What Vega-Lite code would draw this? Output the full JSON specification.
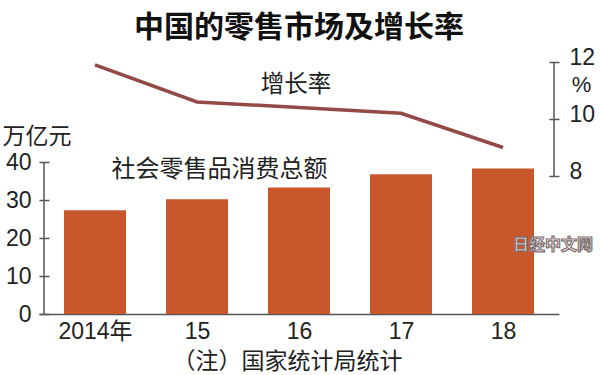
{
  "$schema": "https://vega.github.io/schema/vega-lite/v6.json",
  "width": 520,
  "height": 252,
  "autosize": {"type": "none"},
  "padding": {"left": 39, "top": 62, "right": 41, "bottom": 61},
  "background": "white",
  "config": {"view": {"stroke": null}, "font": "Noto Sans CJK SC", "axis": {"grid": false}},
  "title": {"text": "中国的零售市场及增长率", "fontSize": 30, "fontWeight": "bold", "font": "Noto Sans CJK SC", "color": "#111", "anchor": "middle", "offset": 3},
  "data": {"values": [
    {"year": 2014, "sales": 27.3, "growth": 11.9},
    {"year": 2015, "sales": 30.2, "growth": 10.6},
    {"year": 2016, "sales": 33.3, "growth": 10.4},
    {"year": 2017, "sales": 36.8, "growth": 10.2},
    {"year": 2018, "sales": 38.3, "growth": 9.0}
  ]},
  "layer": [
    {
      "layer": [
        {
          "mark": {"type": "bar", "size": 62, "color": "#c8582c"},
          "encoding": {
            "x": {"field": "year", "type": "quantitative", "scale": {"domain": [2013.5, 2018.5], "nice": false, "zero": false},
              "axis": {"values": [2014, 2015, 2016, 2017, 2018], "format": "d", "labelExpr": "datum.value == 2014 ? '2014年' : substring(datum.label, 2)",
                "ticks": false, "domainColor": "#555", "domainWidth": 1.5, "labelFont": "Liberation Sans, Noto Sans CJK SC", "labelFontSize": 23, "labelPadding": 6, "labelColor": "#222", "labelFlush": false, "labelOverlap": false, "labelBound": false, "grid": false,
                "title": "（注）国家统计局统计", "titleFont": "Noto Sans CJK SC", "titleFontSize": 23, "titleFontWeight": "normal", "titleX": 248, "titleY": 47, "titleBaseline": "middle", "titleAlign": "center", "titleColor": "#222"}},
            "y": {"field": "sales", "type": "quantitative", "scale": {"domain": [0, 66.32], "nice": false, "zero": true},
              "axis": {"values": [0, 10, 20, 30, 40], "domain": false, "tickSize": -10, "tickColor": "#555", "tickWidth": 1.5, "labelPadding": 18, "labelFont": "Liberation Sans", "labelFontSize": 23, "labelColor": "#222", "grid": false,
                "title": "万亿元", "titleAngle": 0, "titleAlign": "left", "titleBaseline": "middle", "titleX": -37, "titleY": 74, "titleFont": "Noto Sans CJK SC", "titleFontSize": 23, "titleFontWeight": "normal", "titleColor": "#222"}}
          }
        },
        {
          "data": {"values": [{}]},
          "mark": {"type": "rule", "color": "#555", "strokeWidth": 1.5},
          "encoding": {
            "x": {"datum": 2013.5, "type": "quantitative"},
            "y": {"datum": 0, "type": "quantitative"},
            "y2": {"datum": 40}
          }
        },
        {
          "data": {"values": [{}]},
          "mark": {"type": "text", "fontSize": 24, "color": "#222", "font": "Noto Sans CJK SC", "baseline": "middle", "align": "center"},
          "encoding": {
            "x": {"datum": 2015.22, "type": "quantitative"},
            "y": {"datum": 38, "type": "quantitative"},
            "text": {"value": "社会零售品消费总额"}
          }
        },
        {
          "data": {"values": [{}]},
          "mark": {"type": "text", "fontSize": 16, "fontWeight": "bold", "color": "white", "stroke": "#7d6e6e", "strokeWidth": 1.2, "font": "Noto Sans CJK SC", "baseline": "middle", "align": "center"},
          "encoding": {
            "x": {"datum": 2018.49, "type": "quantitative"},
            "y": {"datum": 18.2, "type": "quantitative"},
            "text": {"value": "日经中文网"}
          }
        }
      ]
    },
    {
      "layer": [
        {
          "mark": {"type": "line", "color": "#934946", "strokeWidth": 3.5},
          "encoding": {
            "x": {"field": "year", "type": "quantitative"},
            "y": {"field": "growth", "type": "quantitative", "scale": {"domain": [3.158, 12], "nice": false, "zero": false},
              "axis": {"orient": "right", "values": [8, 10, 12], "domain": false, "tickSize": -10, "tickColor": "#555", "tickWidth": 1.5, "labelPadding": 20, "labelOffset": -5, "labelFont": "Liberation Sans", "labelFontSize": 23, "labelColor": "#222", "grid": false,
                "title": "%", "titleAngle": 0, "titleAlign": "center", "titleBaseline": "middle", "titleX": 22, "titleY": 22, "titleFont": "Liberation Sans", "titleFontSize": 22, "titleFontWeight": "normal", "titleColor": "#222"}}
          }
        },
        {
          "data": {"values": [{}]},
          "mark": {"type": "rule", "color": "#555", "strokeWidth": 1.5},
          "encoding": {
            "x": {"datum": 2018.5, "type": "quantitative"},
            "y": {"datum": 8, "type": "quantitative"},
            "y2": {"datum": 12}
          }
        },
        {
          "data": {"values": [{}]},
          "mark": {"type": "text", "fontSize": 23.5, "color": "#222", "font": "Noto Sans CJK SC", "baseline": "middle", "align": "center"},
          "encoding": {
            "x": {"datum": 2015.97, "type": "quantitative"},
            "y": {"datum": 11.19, "type": "quantitative"},
            "text": {"value": "增长率"}
          }
        }
      ]
    }
  ],
  "resolve": {"scale": {"y": "independent"}}
}
